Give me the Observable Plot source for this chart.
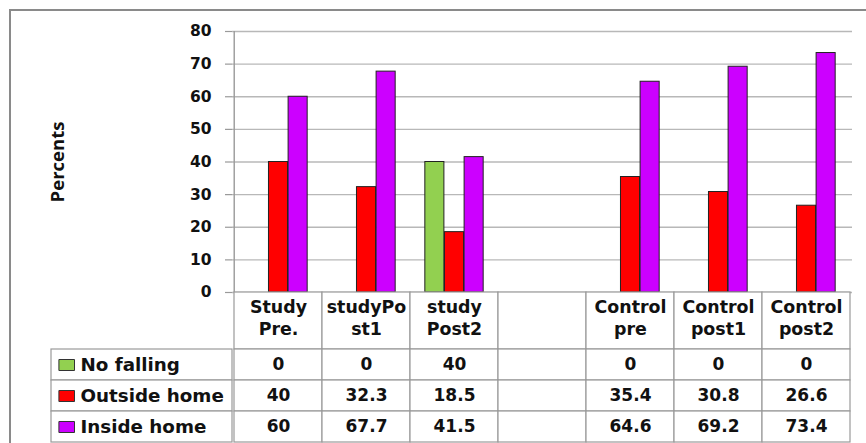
<!DOCTYPE html>
<html><head><meta charset="utf-8">
<script src="https://cdn.jsdelivr.net/npm/d3@7"></script>
<script src="https://cdn.jsdelivr.net/npm/@observablehq/plot@0.6"></script>
<style>
html,body{margin:0;padding:0;background:#fff;}
#wrap{position:relative;width:866px;height:443px;overflow:hidden;}
#frame{position:absolute;left:9px;top:9px;width:900px;height:500px;border:2px solid #8a8a8a;box-sizing:border-box;}
.layer{position:absolute;left:0;}
.layer svg{overflow:visible;display:block;}
</style></head><body><div id="wrap"><div id="frame"></div></div>
<script>
const categories = ["Study\nPre.", "studyPo\nst1", "study\nPost2", " ", "Control\npre", "Control\npost1", "Control\npost2"];
const seriesNames = ["No falling", "Outside home", "Inside home"];
const noFalling   = [0, 0, 40, null, 0, 0, 0];
const outsideHome = [40, 32.3, 18.5, null, 35.4, 30.8, 26.6];
const insideHome  = [60, 67.7, 41.5, null, 64.6, 69.2, 73.4];
const seriesColors = ["#92d050", "#ff0000", "#cc00ff"];
const yTicks = [0, 10, 20, 30, 40, 50, 60, 70, 80];

const seriesValues = [noFalling, outsideHome, insideHome];
const tableRows = [];
seriesNames.forEach((s, i) => categories.forEach((c, j) => tableRows.push({series: s, category: c, value: seriesValues[i][j], si: i})));

const W = 866, ML = 232, MR = 14;
const bw = (W - ML - MR) / categories.length;
const groupW = bw * 0.665, barW = groupW / 3, off = (bw - groupW) / 2;
const gridC = "#b8b8b8", lineC = "#9a9a9a";
const FONT = "DejaVu Sans";

const wrap = document.getElementById("wrap");
function layer(top, node) {
  const d = document.createElement("div");
  d.className = "layer"; d.style.top = top + "px";
  d.appendChild(node); wrap.appendChild(d);
}

const chart = Plot.plot({
  width: W, height: 293, marginTop: 31, marginBottom: 1, marginLeft: ML, marginRight: MR,
  style: {background: "transparent", overflow: "visible", fontFamily: FONT},
  x: {domain: categories, padding: 0, axis: null},
  y: {domain: [0, 80], axis: null},
  marks: [
    Plot.gridY(yTicks, {stroke: gridC, strokeOpacity: 1, strokeWidth: 1.4}),
    Plot.axisY(yTicks, {tickSize: 7, tickPadding: 14, stroke: lineC, strokeWidth: 1.2, fontSize: 15.5, fontWeight: "bold", fill: "#111", label: null}),
    Plot.ruleX([categories[0]], {dx: -bw / 2, stroke: lineC, strokeWidth: 1.4}),
    ...seriesNames.map((s, i) => Plot.barY(tableRows.filter(d => d.si === i && d.value > 0), {
      x: "category", y: "value", fill: seriesColors[i], stroke: "#222", strokeWidth: 1,
      insetLeft: off + i * barW, insetRight: bw - off - (i + 1) * barW
    })),
    Plot.text(["Percents"], {frameAnchor: "left", textAnchor: "middle", dx: 58 - ML, rotate: -90, fontFamily: "Open Sans", fontWeight: "bold", fontSize: 18.5, fill: "#111"})
  ]
});
layer(0, chart);

const header = Plot.plot({
  width: W, height: 57, marginTop: 0, marginBottom: 0, marginLeft: ML, marginRight: MR,
  style: {background: "transparent", overflow: "visible", fontFamily: FONT},
  x: {domain: categories, padding: 0, axis: null},
  marks: [
    Plot.cell(categories, {x: d => d, fill: "white", stroke: lineC, strokeWidth: 1.2}),
    Plot.text(categories, {x: d => d, text: d => d, fontSize: 17.4, fontWeight: "bold", lineHeight: 1.29, dy: -4, fill: "#111"})
  ]
});
layer(292, header);

const rows = Plot.plot({
  width: W, height: 93, marginTop: 0, marginBottom: 0, marginLeft: ML, marginRight: MR,
  style: {background: "transparent", overflow: "visible", fontFamily: FONT},
  x: {domain: categories, padding: 0, axis: null},
  y: {domain: seriesNames, padding: 0, axis: null},
  marks: [
    Plot.cell(tableRows, {x: "category", y: "series", fill: "white", stroke: lineC, strokeWidth: 1.2}),
    Plot.text(tableRows, {x: "category", y: "series", text: d => d.value == null ? "" : String(d.value), fontSize: 17, fontWeight: "bold", fill: "#111"})
  ]
});
layer(349, rows);

const swatch = {draw(ctx) { ctx.moveTo(-7.8, -5.5); ctx.lineTo(7.8, -5.5); ctx.lineTo(7.8, 5.5); ctx.lineTo(-7.8, 5.5); ctx.closePath(); }};
const legend = Plot.plot({
  width: W, height: 93, marginTop: 0, marginBottom: 0, marginLeft: 51, marginRight: W - ML,
  style: {background: "transparent", overflow: "visible", fontFamily: FONT},
  y: {domain: seriesNames, padding: 0, axis: null},
  color: {type: "identity"},
  marks: [
    Plot.cell(seriesNames, {y: d => d, fill: "white", stroke: lineC, strokeWidth: 1.2}),
    Plot.dot(seriesNames, {y: d => d, frameAnchor: "left", dx: 15.2, symbol: swatch, fill: (d, i) => seriesColors[i], stroke: "#333", strokeWidth: 1}),
    Plot.text(seriesNames, {y: d => d, text: d => d, frameAnchor: "left", dx: 29, textAnchor: "start", fontSize: 18.3, fontWeight: "bold", fill: "#111"})
  ]
});
layer(349, legend);
</script></body></html>
